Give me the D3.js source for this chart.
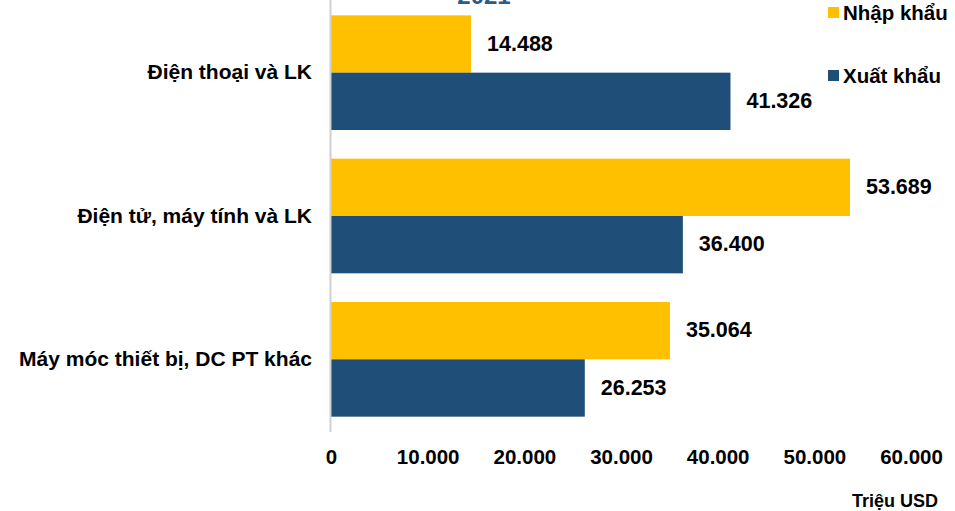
<!DOCTYPE html>
<html>
<head>
<meta charset="utf-8">
<script src="https://cdn.jsdelivr.net/npm/d3@7"></script>
<style>
  html, body { margin: 0; padding: 0; background: #fff; }
  svg { display: block; font-family: "Liberation Sans", Arial, sans-serif; font-weight: bold; }
</style>
</head>
<body>
<svg id="chart" width="955" height="511"></svg>
<script>
const categories = ["Điện thoại và LK", "Điện tử, máy tính và LK", "Máy móc thiết bị, DC PT khác"];
const seriesNames = ["Nhập khẩu", "Xuất khẩu"];
const importValues = [14488, 53689, 35064];
const exportValues = [41326, 36400, 26253];
const tickValues = [0, 10000, 20000, 30000, 40000, 50000, 60000];
const colors = ["#FFC000", "#1F4E79"];
const title = "2021";
const unitLabel = "Triệu USD";

const fmt = v => d3.format(",")(v).replace(/,/g, ".");
const FONT = "Liberation Sans, Arial, sans-serif";

const svg = d3.select("#chart");
const x = d3.scaleLinear().domain([0, 60000]).range([331, 911]);
const y = d3.scaleBand().domain(categories).range([1, 431]).paddingInner(0.2).paddingOuter(0.1);
const ySub = d3.scaleBand().domain(seriesNames).range([0, y.bandwidth()]);

const rows = categories.map((c, i) => ({ cat: c, values: [importValues[i], exportValues[i]] }));

// title (sits partly above the canvas)
svg.append("text").attr("x", 484).attr("y", 4).attr("text-anchor", "middle")
  .attr("fill", "#2E5A87").attr("font-size", 24).text(title);

// bars
const groups = svg.selectAll("g.grp").data(rows).join("g").attr("class", "grp")
  .attr("transform", d => `translate(0,${y(d.cat)})`);

groups.selectAll("rect").data(d => d.values.map((v, k) => ({ v, k })))
  .join("rect")
  .attr("x", x(0))
  .attr("y", d => ySub(seriesNames[d.k]))
  .attr("width", d => x(d.v) - x(0))
  .attr("height", ySub.bandwidth())
  .attr("fill", d => colors[d.k]);

groups.selectAll("text.val").data(d => d.values.map((v, k) => ({ v, k })))
  .join("text").attr("class", "val")
  .attr("x", d => x(d.v) + 16)
  .attr("y", d => ySub(seriesNames[d.k]) + ySub.bandwidth() / 2 + 1)
  .attr("dominant-baseline", "middle")
  .attr("font-size", 21.5).attr("fill", "#000")
  .text(d => fmt(d.v));

// vertical axis line
svg.append("line").attr("x1", x(0) - 0.5).attr("x2", x(0) - 0.5).attr("y1", 0).attr("y2", 432)
  .attr("stroke", "#d0d0d0").attr("stroke-width", 2);

// category labels
const yAxis = d3.axisLeft(y).tickSize(0).tickPadding(19);
const yg = svg.append("g").attr("transform", `translate(${x(0)},0)`).call(yAxis);
yg.select(".domain").remove();
yg.selectAll("text").attr("font-size", 21).attr("font-family", FONT)
  .attr("font-weight", "bold").attr("fill", "#000");

// x axis tick labels
const xAxis = d3.axisBottom(x).tickValues(tickValues).tickSize(0).tickPadding(0).tickFormat(fmt);
const xg = svg.append("g").attr("transform", "translate(0,449)").call(xAxis);
xg.select(".domain").remove();
xg.selectAll("text").attr("font-size", 20.5).attr("font-family", FONT)
  .attr("font-weight", "bold").attr("fill", "#000");

// unit label
svg.append("text").attr("x", 938).attr("y", 507).attr("text-anchor", "end")
  .attr("font-size", 18).attr("fill", "#000").text(unitLabel);

// legend
const leg = svg.selectAll("g.leg").data(seriesNames).join("g").attr("class", "leg")
  .attr("transform", (d, i) => `translate(828,${7 + i * 63})`);
leg.append("rect").attr("width", 11).attr("height", 11).attr("fill", (d, i) => colors[i]);
leg.append("text").attr("x", 15).attr("y", 13).attr("font-size", 20.5).attr("fill", "#000").text(d => d);
</script>
</body>
</html>
